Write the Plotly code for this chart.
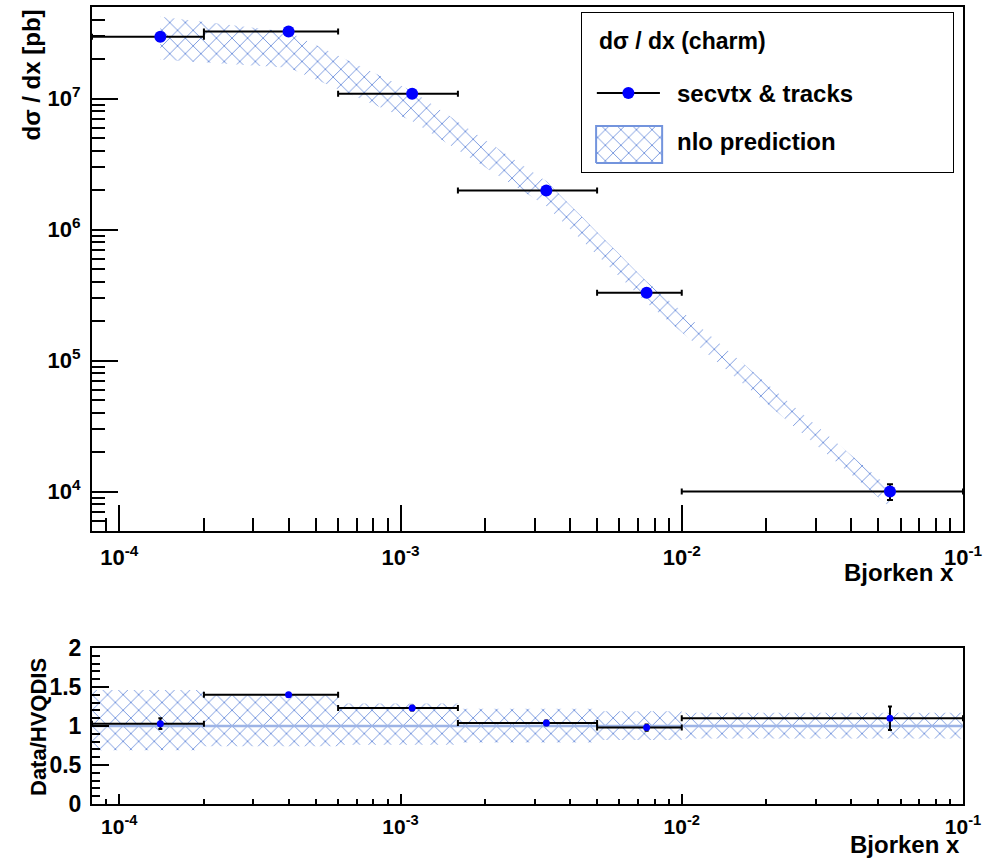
import plotly.graph_objects as go

# ---------------- data ----------------
bin_lo = [8e-5, 2e-4, 6e-4, 1.6e-3, 5e-3, 1e-2]
bin_hi = [2e-4, 6e-4, 1.6e-3, 5e-3, 1e-2, 1e-1]
x_c = [1.4e-4, 4.0e-4, 1.1e-3, 3.3e-3, 7.5e-3, 5.5e-2]
dsig = [2.97e7, 3.25e7, 1.09e7, 1.99e6, 3.3e5, 1.0e4]          # d sigma/dx [pb]
ratio = [1.03, 1.40, 1.23, 1.04, 0.98, 1.10]                    # Data/HVQDIS
ratio_err = [0.07, 0.02, 0.03, 0.03, 0.04, 0.15]
band_lo = [0.69, 0.74, 0.76, 0.79, 0.82, 0.84]                  # nlo band (relative)
band_hi = [1.46, 1.39, 1.29, 1.22, 1.19, 1.17]

x_major = [1e-4, 1e-3, 1e-2, 1e-1]
x_major_txt = ["10<sup>-4</sup>", "10<sup>-3</sup>", "10<sup>-2</sup>", "10<sup>-1</sup>"]
y_major = [1e4, 1e5, 1e6, 1e7]
y_major_txt = ["10<sup>4</sup>", "10<sup>5</sup>", "10<sup>6</sup>", "10<sup>7</sup>"]

# ---------------- derived ----------------
theory = [d / r for d, r in zip(dsig, ratio)]
dsig_err = [d * e / r for d, e, r in zip(dsig, ratio_err, ratio)]
ex_plus = [h - c for h, c in zip(bin_hi, x_c)]
ex_minus = [c - l for c, l in zip(x_c, bin_lo)]

x_minor = [m * 10.0 ** e for e in range(-5, -1) for m in range(2, 10)]
y_minor = [m * 10.0 ** e for e in range(3, 8) for m in range(2, 10)]

W, H = 990, 861
def px(v): return v / W
def py(v): return 1 - v / H

HATCH = "#7394dd"
LINE1 = "#9db4e6"
FONT = "Liberation Sans"
PAT = dict(shape="x", fgcolor=HATCH, fgopacity=1, bgcolor="rgba(0,0,0,0)", size=11, solidity=0.16)

fig = go.Figure()

# top band (nlo prediction)
band_x = x_c + x_c[::-1]
band_y = [t * h for t, h in zip(theory, band_hi)] + [t * l for t, l in zip(theory, band_lo)][::-1]
fig.add_trace(go.Scatter(
    x=band_x, y=band_y, fill="toself", mode="lines",
    line=dict(width=0, color=HATCH), fillcolor="rgba(0,0,0,0)",
    fillpattern=PAT, xaxis="x", yaxis="y", showlegend=False, hoverinfo="skip"))

# top data
fig.add_trace(go.Scatter(
    x=x_c, y=dsig, mode="markers",
    marker=dict(color="#0000ff", size=12, symbol="circle"),
    error_x=dict(type="data", symmetric=False, array=ex_plus, arrayminus=ex_minus,
                 color="black", thickness=2, width=3),
    error_y=dict(type="data", array=dsig_err, color="black", thickness=2, width=3),
    xaxis="x", yaxis="y", showlegend=False))

# ratio band (step per bin)
rb_x, rb_hi, rb_lo = [], [], []
for lo, hi, bl, bh in zip(bin_lo, bin_hi, band_lo, band_hi):
    rb_x += [lo, hi]
    rb_hi += [bh, bh]
    rb_lo += [bl, bl]
fig.add_trace(go.Scatter(
    x=rb_x + rb_x[::-1], y=rb_hi + rb_lo[::-1], fill="toself", mode="lines",
    line=dict(width=0, color=HATCH), fillcolor="rgba(0,0,0,0)",
    fillpattern=PAT, xaxis="x2", yaxis="y2", showlegend=False, hoverinfo="skip"))

# ratio reference line
fig.add_trace(go.Scatter(
    x=[bin_lo[0], bin_hi[-1]], y=[1, 1], mode="lines",
    line=dict(color=LINE1, width=2.5), xaxis="x2", yaxis="y2",
    showlegend=False, hoverinfo="skip"))

# ratio data
fig.add_trace(go.Scatter(
    x=x_c, y=ratio, mode="markers",
    marker=dict(color="#0000ff", size=7),
    error_x=dict(type="data", symmetric=False, array=ex_plus, arrayminus=ex_minus,
                 color="black", thickness=2, width=3),
    error_y=dict(type="data", array=ratio_err, color="black", thickness=2, width=2),
    xaxis="x2", yaxis="y2", showlegend=False))

# ---------------- manual legend ----------------
fig.add_trace(go.Scatter(
    x=[0.040, 0.210], y=[0.497, 0.497], mode="lines",
    line=dict(color="black", width=2), xaxis="x3", yaxis="y3",
    showlegend=False, hoverinfo="skip"))
fig.add_trace(go.Scatter(
    x=[0.125], y=[0.497], mode="markers",
    marker=dict(color="#0000ff", size=12), xaxis="x3", yaxis="y3",
    showlegend=False, hoverinfo="skip"))
fig.add_trace(go.Scatter(
    x=[0.038, 0.216, 0.216, 0.038, 0.038], y=[0.057, 0.057, 0.289, 0.289, 0.057],
    fill="toself", mode="lines", line=dict(color=HATCH, width=2),
    fillcolor="rgba(0,0,0,0)", fillpattern=PAT,
    xaxis="x3", yaxis="y3", showlegend=False, hoverinfo="skip"))

axis_common = dict(showline=True, linecolor="black", linewidth=2, mirror=True,
                   showgrid=False, zeroline=False, ticks="inside", tickcolor="black",
                   tickwidth=2, automargin=False)

xdom = [px(92), px(963)]
fig.update_layout(
    template="none",
    width=W, height=H, margin=dict(l=0, r=0, t=0, b=0, pad=0, autoexpand=False),
    paper_bgcolor="white", plot_bgcolor="white",
    font=dict(family=FONT, color="black"),
    showlegend=False,
    xaxis=dict(axis_common, type="log", domain=xdom, anchor="y",
               range=[-4.0969, -1.0],
               tickmode="array", tickvals=x_major, ticktext=x_major_txt, ticklen=26,
               tickfont=dict(family=FONT, size=22, weight="bold"), ticklabelstandoff=6,
               minor=dict(tickmode="array", tickvals=x_minor, ticklen=13, ticks="inside",
                          tickcolor="black", tickwidth=2, showgrid=False)),
    yaxis=dict(axis_common, type="log", domain=[py(531), py(7)], anchor="x",
               range=[3.699, 7.699],
               tickmode="array", tickvals=y_major, ticktext=y_major_txt, ticklen=26,
               tickfont=dict(family=FONT, size=22, weight="bold"), ticklabelstandoff=5,
               minor=dict(tickmode="array", tickvals=y_minor, ticklen=13, ticks="inside",
                          tickcolor="black", tickwidth=2, showgrid=False)),
    xaxis2=dict(axis_common, type="log", domain=xdom, anchor="y2",
                range=[-4.0969, -1.0],
                tickmode="array", tickvals=x_major, ticktext=x_major_txt, ticklen=10,
                tickfont=dict(family=FONT, size=21, weight="bold"), ticklabelstandoff=3,
                minor=dict(tickmode="array", tickvals=x_minor, ticklen=5, ticks="inside",
                           tickcolor="black", tickwidth=2, showgrid=False)),
    yaxis2=dict(axis_common, domain=[py(804), py(648)], anchor="x2",
                range=[0, 2], tickmode="linear", tick0=0, dtick=0.5, ticklen=17,
                tickfont=dict(family=FONT, size=23, weight="bold"), ticklabelstandoff=4,
                minor=dict(dtick=0.1, ticklen=8, ticks="inside", tickcolor="black",
                           tickwidth=2, showgrid=False)),
    xaxis3=dict(domain=[px(582), px(953)], range=[0, 1], visible=False, anchor="y3",
                fixedrange=True, automargin=False),
    yaxis3=dict(domain=[py(172), py(13)], range=[0, 1], visible=False, anchor="x3",
                fixedrange=True, automargin=False),
)

# legend frame
fig.add_shape(type="rect", xref="paper", yref="paper",
              x0=px(582), x1=px(953), y0=py(172), y1=py(13),
              line=dict(color="black", width=2), fillcolor="rgba(0,0,0,0)", layer="below")

def ann(text, x, y, size, xanchor="left", yanchor="middle", angle=0):
    fig.add_annotation(text=text, x=x, y=y, xref="paper", yref="paper",
                       xanchor=xanchor, yanchor=yanchor, textangle=angle,
                       showarrow=False,
                       font=dict(family=FONT, size=size, color="black", weight="bold"))

ann("dσ / dx (charm)", px(597), py(41), 23)
ann("secvtx &amp; tracks", px(675), py(93), 24)
ann("nlo prediction", px(675), py(141), 24)

ann("dσ / dx [pb]", px(31), py(8), 24, xanchor="center", yanchor="top", angle=-90)
ann("Bjorken x", px(956), py(572), 24, xanchor="right", yanchor="middle")
ann("Data/HVQDIS", px(38), py(727), 22, xanchor="center", yanchor="middle", angle=-90)
ann("Bjorken x", px(962), py(844), 24, xanchor="right", yanchor="middle")

fig.write_html("out.html", config={"displayModeBar": False},
               post_script="document.body.style.margin='0';document.body.style.padding='0';")
